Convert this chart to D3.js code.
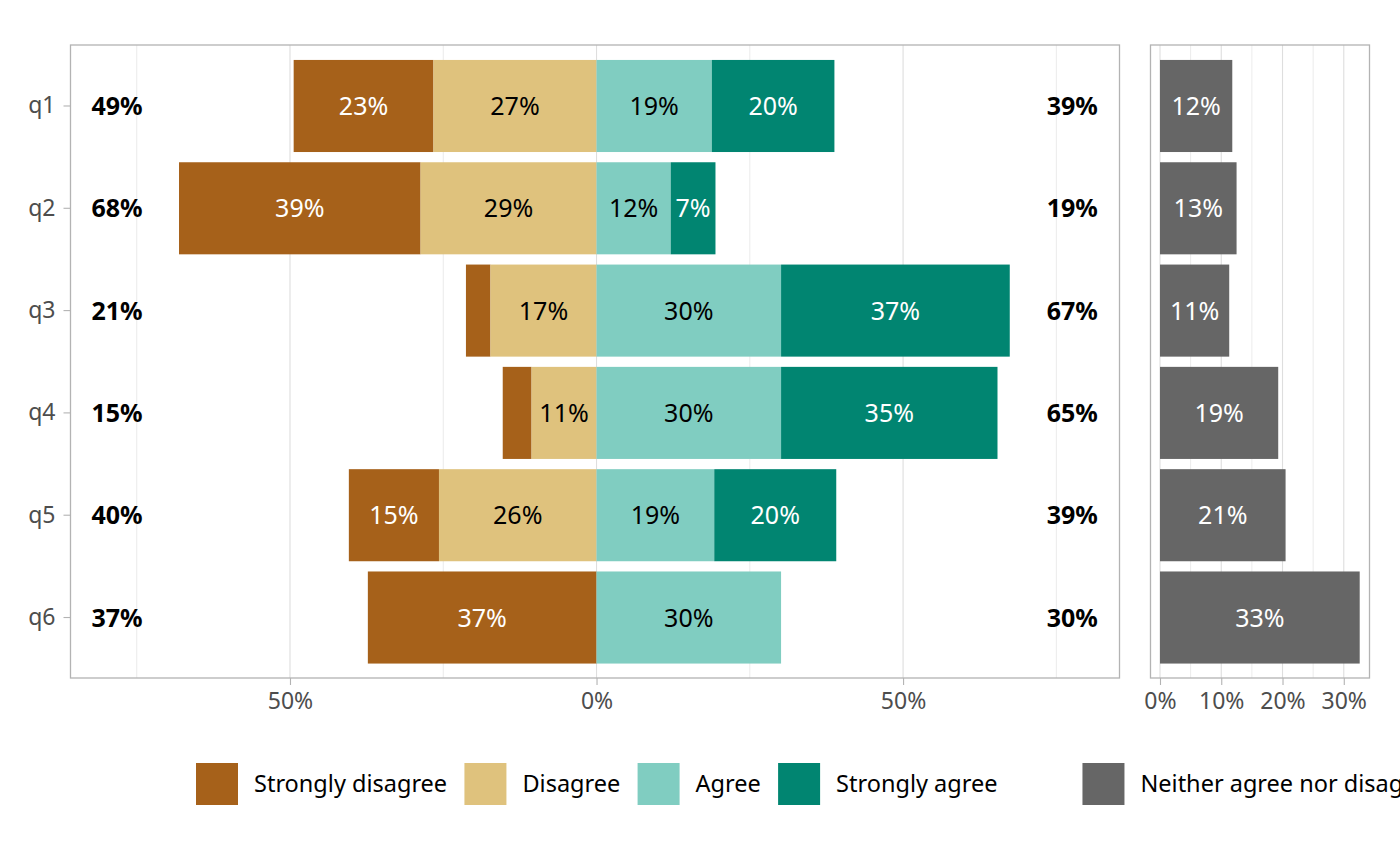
<!DOCTYPE html>
<html>
<head>
<meta charset="utf-8">
<script src="https://cdn.jsdelivr.net/npm/d3@7"></script>
<style>
body { margin: 0; background: #fff; }
svg { font-family: "Noto Sans", sans-serif; display: block; }
</style>
</head>
<body>
<svg></svg>
<script>
// data (percent of answers)
var questions = ['q1', 'q2', 'q3', 'q4', 'q5', 'q6'];
var stronglyDisagree = [22.8, 39.4, 4.0, 4.7, 14.7, 37.3];
var disagree = [26.6, 28.7, 17.3, 10.6, 25.7, 0];
var agree = [18.8, 12.1, 30.1, 30.1, 19.2, 30.1];
var stronglyAgree = [20.0, 7.3, 37.3, 35.3, 19.9, 0];
var neutral = [11.8, 12.5, 11.3, 19.3, 20.5, 32.6];

var levels = ['Strongly disagree', 'Disagree', 'Agree', 'Strongly agree'];
var neutralLevel = 'Neither agree nor disagree';
var mainTicks = [-50, 0, 50];
var mainMinor = [-75, -25, 25, 75];
var sideTicks = [0, 10, 20, 30];
var sideMinor = [5, 15, 25];

var levelColors = ['#A6611A', '#DFC27D', '#80CDC1', '#018571'];
var levelText = ['#ffffff', '#000000', '#000000', '#ffffff'];
var neutralColor = '#666666';

var width = 1400, height = 866;
var panelTop = 45, panelBottom = 678;

var svg = d3.select('svg')
    .attr('width', width)
    .attr('height', height);

svg.append('rect').attr('width', width).attr('height', height).attr('fill', '#fff');

var x = d3.scaleLinear().domain([-85.8, 85.3]).range([70.5, 1119.5]);
var xs = d3.scaleLinear().domain([-1.55, 34.2]).range([1150.5, 1369.5]);
var y = d3.scaleBand().domain(questions).range([44.6, 678.9])
    .paddingInner(0.1).paddingOuter(0.15);

function pct(v) { return Math.round(v) + '%'; }

// stacked segments, negative side to the left of zero
var segs = [];
questions.forEach(function(q, i) {
    var sd = stronglyDisagree[i], d = disagree[i], a = agree[i], sa = stronglyAgree[i];
    segs.push({q: q, k: 0, x0: -(sd + d), x1: -d, v: sd});
    segs.push({q: q, k: 1, x0: -d, x1: 0, v: d});
    segs.push({q: q, k: 2, x0: 0, x1: a, v: a});
    segs.push({q: q, k: 3, x0: a, x1: a + sa, v: sa});
});
segs = segs.filter(function(s) { return s.v > 0; });

function grid(g, scale, major, minor) {
    g.selectAll('line.minor')
        .data(minor).enter().append('line')
        .attr('x1', scale).attr('x2', scale)
        .attr('y1', panelTop).attr('y2', panelBottom)
        .attr('stroke', '#E6E6E6').attr('stroke-width', 0.8);
    g.selectAll('line.major')
        .data(major).enter().append('line')
        .attr('x1', scale).attr('x2', scale)
        .attr('y1', panelTop).attr('y2', panelBottom)
        .attr('stroke', '#DEDEDE').attr('stroke-width', 1.1);
}

// main panel
var main = svg.append('g');
grid(main, x, mainTicks, mainMinor);

main.selectAll('rect.seg')
    .data(segs).enter().append('rect')
    .attr('x', function(d) { return x(d.x0); })
    .attr('width', function(d) { return x(d.x1) - x(d.x0); })
    .attr('y', function(d) { return y(d.q); })
    .attr('height', y.bandwidth())
    .attr('fill', function(d) { return levelColors[d.k]; });

main.selectAll('text.seg')
    .data(segs.filter(function(d) { return d.v >= 5; })).enter().append('text')
    .attr('x', function(d) { return x((d.x0 + d.x1) / 2); })
    .attr('y', function(d) { return y(d.q) + y.bandwidth() / 2; })
    .attr('dy', '0.36em')
    .attr('text-anchor', 'middle')
    .attr('font-size', 25)
    .attr('fill', function(d) { return levelText[d.k]; })
    .text(function(d) { return pct(d.v); });

// totals either side
main.selectAll('text.left')
    .data(questions).enter().append('text')
    .attr('x', x(-78.2))
    .attr('y', function(q) { return y(q) + y.bandwidth() / 2; })
    .attr('dy', '0.36em')
    .attr('text-anchor', 'middle')
    .attr('font-size', 25).attr('font-weight', 'bold')
    .text(function(q, i) { return pct(stronglyDisagree[i] + disagree[i]); });

main.selectAll('text.right')
    .data(questions).enter().append('text')
    .attr('x', x(77.6))
    .attr('y', function(q) { return y(q) + y.bandwidth() / 2; })
    .attr('dy', '0.36em')
    .attr('text-anchor', 'middle')
    .attr('font-size', 25).attr('font-weight', 'bold')
    .text(function(q, i) { return pct(agree[i] + stronglyAgree[i]); });

main.append('rect')
    .attr('x', x.range()[0]).attr('y', panelTop)
    .attr('width', x.range()[1] - x.range()[0]).attr('height', panelBottom - panelTop)
    .attr('fill', 'none').attr('stroke', '#B3B3B3').attr('stroke-width', 1.3);

// neutral panel
var side = svg.append('g');
grid(side, xs, sideTicks, sideMinor);

side.selectAll('rect.n')
    .data(questions).enter().append('rect')
    .attr('x', xs(0))
    .attr('width', function(q, i) { return xs(neutral[i]) - xs(0); })
    .attr('y', function(q) { return y(q); })
    .attr('height', y.bandwidth())
    .attr('fill', neutralColor);

side.selectAll('text.n')
    .data(questions).enter().append('text')
    .attr('x', function(q, i) { return xs(neutral[i] / 2); })
    .attr('y', function(q) { return y(q) + y.bandwidth() / 2; })
    .attr('dy', '0.36em')
    .attr('text-anchor', 'middle')
    .attr('font-size', 25)
    .attr('fill', '#fff')
    .text(function(q, i) { return pct(neutral[i]); });

side.append('rect')
    .attr('x', xs.range()[0]).attr('y', panelTop)
    .attr('width', xs.range()[1] - xs.range()[0]).attr('height', panelBottom - panelTop)
    .attr('fill', 'none').attr('stroke', '#B3B3B3').attr('stroke-width', 1.3);

// axes
function styleAxis(g) {
    g.select('.domain').remove();
    g.selectAll('.tick line').attr('stroke', '#B3B3B3').attr('stroke-width', 1.1);
    g.selectAll('.tick text').attr('fill', '#4D4D4D').attr('font-size', 23)
        .attr('font-family', '"Noto Sans", sans-serif');
}

svg.append('g')
    .attr('transform', 'translate(0,' + panelBottom + ')')
    .call(d3.axisBottom(x).tickValues(mainTicks).tickSize(7).tickPadding(8)
        .tickFormat(function(d) { return Math.abs(d) + '%'; }))
    .call(styleAxis);

svg.append('g')
    .attr('transform', 'translate(0,' + panelBottom + ')')
    .call(d3.axisBottom(xs).tickValues(sideTicks).tickSize(7).tickPadding(8)
        .tickFormat(function(d) { return d + '%'; }))
    .call(styleAxis);

svg.append('g')
    .attr('transform', 'translate(' + x.range()[0] + ',0)')
    .call(d3.axisLeft(y).tickSize(7).tickPadding(8))
    .call(styleAxis);

// legend
var legend = svg.append('g');
var keySize = 42, legendY = 784;
var entries = levels.map(function(l, i) { return {label: l, color: levelColors[i]}; });
entries.push({label: neutralLevel, color: neutralColor, gapBefore: 85});

var lx = 196;
entries.forEach(function(e, i) {
    if (i > 0) lx += e.gapBefore || 17.3;
    legend.append('rect')
        .attr('x', lx).attr('y', legendY - keySize / 2)
        .attr('width', keySize).attr('height', keySize)
        .attr('fill', e.color);
    var t = legend.append('text')
        .attr('x', lx + keySize + 16).attr('y', legendY)
        .attr('dy', '0.35em')
        .attr('font-size', 23.5)
        .attr('fill', '#000')
        .text(e.label);
    lx += keySize + 16 + t.node().getComputedTextLength();
});
</script>
</body>
</html>
